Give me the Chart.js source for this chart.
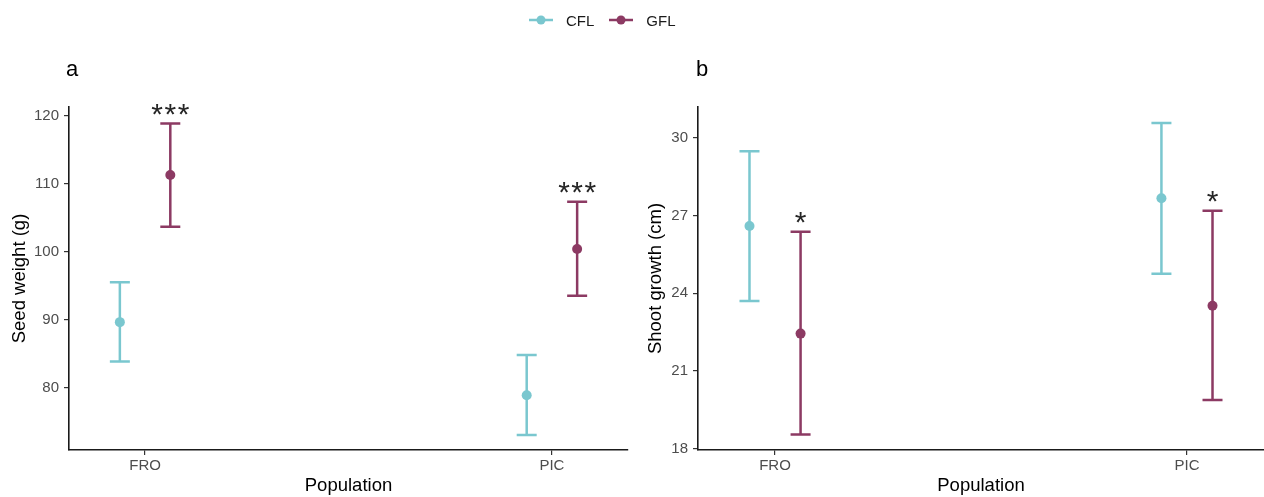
<!DOCTYPE html>
<html>
<head>
<meta charset="utf-8">
<script src="https://cdn.jsdelivr.net/npm/chart.js@4/dist/chart.umd.min.js"></script>
<style>
body { margin: 0; background: #fff; font-family: "Liberation Sans", Arial, sans-serif; }
#wrap { position: relative; width: 1264px; height: 497px; overflow: hidden; }
canvas { position: absolute; top: 0; }
#legend { position: absolute; top: 10px; left: 528px; font-size: 15px; color: #1a1a1a; white-space: nowrap; }
#legend span { display: inline-block; vertical-align: middle; }
.tag { position: absolute; top: 56px; font-size: 22px; color: #000; }
</style>
</head>
<body>
<div id="wrap">
  <canvas id="chartA" width="632" height="497" style="left:0"></canvas>
  <canvas id="chartB" width="632" height="497" style="left:632px"></canvas>
  <div class="tag" style="left:66px">a</div>
  <div class="tag" style="left:696px">b</div>
  <div id="legend"></div>
</div>
<script>
// dados
const populations = ['FRO', 'PIC'];
const groups = ['CFL', 'GFL'];
const colors = ['#7AC7CF', '#8C3A63'];

// painel a - peso das sementes
const seedCFL = [89.65, 78.9];
const seedCFLlow = [83.87, 73.04];
const seedCFLhigh = [95.53, 84.8];
const seedGFL = [111.3, 100.4];
const seedGFLlow = [103.7, 93.53];
const seedGFLhigh = [118.87, 107.35];
const seedSig = ['***', '***'];
const seedTicks = [80, 90, 100, 110, 120];

// painel b - crescimento do broto
const shootCFL = [26.6, 27.67];
const shootCFLlow = [23.7, 24.75];
const shootCFLhigh = [29.49, 30.58];
const shootGFL = [22.44, 23.52];
const shootGFLlow = [18.54, 19.87];
const shootGFLhigh = [26.38, 27.19];
const shootSig = ['*', '*'];
const shootTicks = [18, 21, 24, 27, 30];

const dodge = 0.062;

// legenda em HTML
const legend = document.getElementById('legend');
groups.forEach((g, i) => {
    legend.innerHTML +=
        '<span style="margin-right:12px"><svg width="26" height="12"><line x1="1" y1="6" x2="25" y2="6" stroke="' + colors[i] +
        '" stroke-width="2.5"/><circle cx="13" cy="6" r="4.5" fill="' + colors[i] + '"/></svg></span>' +
        '<span style="margin-right:14px">' + g + '</span>';
});

function points(values, low, high, offset) {
    return values.map((v, i) => ({ x: i + 1 + offset, y: v, lo: low[i], hi: high[i] }));
}

// barras de erro e asteriscos
const errorBars = {
    id: 'errorBars',
    beforeDatasetsDraw(chart) {
        const ctx = chart.ctx;
        const x = chart.scales.x, y = chart.scales.y;
        chart.data.datasets.forEach(ds => {
            ctx.save();
            ctx.strokeStyle = ds.borderColor;
            ctx.lineWidth = 2.5;
            ds.data.forEach(p => {
                const px = x.getPixelForValue(p.x);
                const top = y.getPixelForValue(p.hi);
                const bot = y.getPixelForValue(p.lo);
                ctx.beginPath();
                ctx.moveTo(px, top); ctx.lineTo(px, bot);
                ctx.moveTo(px - 10, top); ctx.lineTo(px + 10, top);
                ctx.moveTo(px - 10, bot); ctx.lineTo(px + 10, bot);
                ctx.stroke();
            });
            ctx.restore();
        });
    },
    afterDatasetsDraw(chart) {
        const ctx = chart.ctx;
        const x = chart.scales.x, y = chart.scales.y;
        chart.data.datasets.forEach(ds => {
            if (!ds.sig) return;
            ctx.save();
            ctx.fillStyle = '#262626';
            ctx.font = '30px "Liberation Sans", Arial, sans-serif';
            ctx.textAlign = 'center';
            ctx.textBaseline = 'alphabetic';
            ds.data.forEach((p, i) => {
                const s = ds.sig[i];
                ctx.letterSpacing = s.length > 1 ? '1.5px' : '0px';
                const shift = s.length > 1 ? 0.75 : 0;
                ctx.fillText(s, x.getPixelForValue(p.x) + shift, y.getPixelForValue(p.hi));
            });
            ctx.restore();
        });
    }
};

function createPanel(id, cfl, gfl, sig, ticks, yMin, yMax, yTitle, yWidth, titlePad, padRight) {
    const ctx = document.getElementById(id).getContext('2d');
    new Chart(ctx, {
        type: 'scatter',
        data: {
            datasets: [
                { label: groups[0], data: cfl, backgroundColor: colors[0], borderColor: colors[0], pointRadius: 5, pointHoverRadius: 5, borderWidth: 0 },
                { label: groups[1], data: gfl, backgroundColor: colors[1], borderColor: colors[1], pointRadius: 5, pointHoverRadius: 5, borderWidth: 0, sig: sig }
            ]
        },
        options: {
            responsive: false,
            animation: false,
            layout: { autoPadding: false, padding: { top: 107, right: padRight, left: 0, bottom: 0 } },
            plugins: { legend: { display: false }, tooltip: { enabled: false } },
            scales: {
                x: {
                    type: 'linear',
                    min: 0.813,
                    max: 2.187,
                    afterBuildTicks: s => { s.ticks = populations.map((p, i) => ({ value: i + 1 })); },
                    afterFit: s => { s.height = 47; },
                    ticks: {
                        callback: v => populations[Math.round(v) - 1],
                        color: '#4d4d4d', font: { size: 15 }, padding: 2, autoSkip: false, maxRotation: 0
                    },
                    grid: { drawOnChartArea: false, drawTicks: true, tickLength: 5, color: '#333', lineWidth: 1.2 },
                    border: { display: true, color: '#1a1a1a', width: 1.6 },
                    title: { display: true, text: 'Population', color: '#000', font: { size: 18.5 }, padding: { top: 1, bottom: 0 } }
                },
                y: {
                    min: yMin,
                    max: yMax,
                    afterBuildTicks: s => { s.ticks = ticks.map(t => ({ value: t })); },
                    afterFit: s => { s.width = yWidth; },
                    ticks: { color: '#4d4d4d', font: { size: 15 }, padding: 5 },
                    grid: { drawOnChartArea: false, drawTicks: true, tickLength: 5, color: '#333', lineWidth: 1.2 },
                    border: { display: true, color: '#1a1a1a', width: 1.6 },
                    title: { display: true, text: yTitle, color: '#000', font: { size: 18.5 }, padding: { top: titlePad, bottom: 0 } }
                }
            }
        },
        plugins: [errorBars]
    });
}

createPanel('chartA',
    points(seedCFL, seedCFLlow, seedCFLhigh, -dodge),
    points(seedGFL, seedGFLlow, seedGFLhigh, dodge),
    seedSig, seedTicks, 70.84, 121.3, 'Seed weight (g)', 69, 9, 4);

createPanel('chartB',
    points(shootCFL, shootCFLlow, shootCFLhigh, -dodge),
    points(shootGFL, shootGFLlow, shootGFLhigh, dodge),
    shootSig, shootTicks, 17.94, 31.2, 'Shoot growth (cm)', 66, 12.5, 0);
</script>
</body>
</html>
